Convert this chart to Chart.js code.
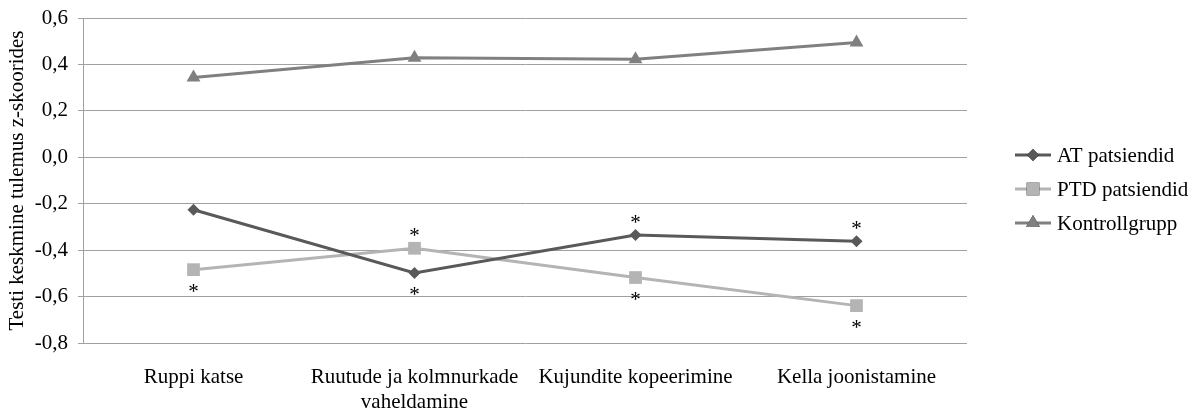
<!DOCTYPE html>
<html>
<head>
<meta charset="utf-8">
<script src="https://cdn.jsdelivr.net/npm/chart.js@4/dist/chart.umd.min.js"></script>
<style>
  html, body { margin: 0; padding: 0; background: #ffffff; }
  #wrap { width: 1195px; height: 408px; }
</style>
</head>
<body>
<div id="wrap"><canvas id="chart" width="1195" height="408"></canvas></div>
<script>
// Test categories (x axis)
const categories = [
  ['Ruppi katse'],
  ['Ruutude ja kolmnurkade', 'vaheldamine'],
  ['Kujundite kopeerimine'],
  ['Kella joonistamine']
];

// Mean z-scores per group
const atValues      = [-0.226, -0.498, -0.335, -0.362];
const ptdValues     = [-0.484, -0.392, -0.518, -0.639];
const controlValues = [0.344, 0.429, 0.422, 0.494];

// Significance markers: where the asterisk sits relative to the point
const atStars      = ['', 'below', 'above', 'above'];
const ptdStars     = ['below', 'above', 'below', 'below'];
const controlStars = ['', '', '', ''];

// Value axis
const yMin = -0.8;
const yMax = 0.6;
const yStep = 0.2;

const seriesNames = ['AT patsiendid', 'PTD patsiendid', 'Kontrollgrupp'];

const FONT = '"Liberation Serif", "Times New Roman", serif';
const FONT_SIZE = 21;

function fmt(v) {
  const r = Math.round(v * 10) / 10;
  return (r === 0 ? 0 : r).toFixed(1).replace('.', ',');
}

// Asterisks above / below the significant points
const starPlugin = {
  id: 'stars',
  afterDatasetsDraw(chart) {
    const ctx = chart.ctx;
    ctx.save();
    ctx.font = FONT_SIZE + 'px ' + FONT;
    ctx.fillStyle = '#000000';
    ctx.textAlign = 'center';
    ctx.textBaseline = 'middle';
    chart.data.datasets.forEach((ds, di) => {
      const meta = chart.getDatasetMeta(di);
      ds.stars.forEach((pos, i) => {
        if (!pos) return;
        const pt = meta.data[i];
        const dy = pos === 'above' ? -12 : 23;
        ctx.fillText('*', pt.x, pt.y + dy);
      });
    });
    ctx.restore();
  }
};

// Legend on the right: line sample with marker, then the label
const legendPlugin = {
  id: 'sideLegend',
  afterDraw(chart) {
    const ctx = chart.ctx;
    const x0 = 1015, x1 = 1051, tx = 1057;
    const ys = [155, 189, 223];
    ctx.save();
    chart.data.datasets.forEach((ds, di) => {
      const y = ys[di];
      ctx.strokeStyle = ds.borderColor;
      ctx.lineWidth = 3;
      ctx.beginPath();
      ctx.moveTo(x0, y);
      ctx.lineTo(x1, y);
      ctx.stroke();
      Chart.helpers.drawPoint(ctx, {
        pointStyle: ds.pointStyle,
        radius: ds.pointRadius,
        borderWidth: 0
      }, (x0 + x1) / 2, y);
      ctx.fillStyle = ds.borderColor;
      ctx.fill();
      ctx.fillStyle = '#000000';
      ctx.font = FONT_SIZE + 'px ' + FONT;
      ctx.textAlign = 'left';
      ctx.textBaseline = 'middle';
      ctx.fillText(ds.label, tx, y + 1);
    });
    ctx.restore();
  }
};

function makeSeries(label, values, stars, color, style, radius) {
  return {
    label: label,
    data: values,
    stars: stars,
    borderColor: color,
    backgroundColor: color,
    pointBackgroundColor: color,
    pointBorderColor: color,
    pointBorderWidth: 0,
    pointStyle: style,
    pointRadius: radius,
    pointHoverRadius: radius,
    borderWidth: 3,
    tension: 0,
    fill: false
  };
}

new Chart(document.getElementById('chart'), {
  type: 'line',
  data: {
    labels: categories,
    datasets: [
      makeSeries(seriesNames[0], atValues, atStars, '#595959', 'rectRot', 6),
      makeSeries(seriesNames[1], ptdValues, ptdStars, '#b4b4b4', 'rect', 9),
      makeSeries(seriesNames[2], controlValues, controlStars, '#808080', 'triangle', 8)
    ]
  },
  options: {
    responsive: false,
    animation: false,
    devicePixelRatio: 1,
    layout: { padding: { left: 0, right: 228, top: 18, bottom: 0 } },
    plugins: {
      legend: { display: false },
      tooltip: { enabled: false }
    },
    scales: {
      x: {
        offset: true,
        grid: { display: false, drawTicks: false },
        border: { display: false },
        ticks: {
          color: '#000000',
          font: { family: FONT, size: FONT_SIZE },
          padding: 22,
          maxRotation: 0,
          autoSkip: false
        },
        afterFit(scale) { scale.height = 65; }
      },
      y: {
        min: yMin,
        max: yMax,
        grid: { color: '#a0a0a0', lineWidth: 1, tickLength: 5, drawTicks: true },
        border: { display: true, color: '#a0a0a0', width: 1 },
        ticks: {
          stepSize: yStep,
          color: '#000000',
          font: { family: FONT, size: FONT_SIZE, lineHeight: 0.6 },
          padding: 10,
          callback: (v) => fmt(v)
        },
        title: {
          display: true,
          text: 'Testi keskmine tulemus z-skoorides',
          color: '#000000',
          font: { family: FONT, size: FONT_SIZE },
          padding: { top: 5, bottom: 0 }
        },
        afterFit(scale) { scale.width = 83; }
      }
    }
  },
  plugins: [starPlugin, legendPlugin]
});
</script>
</body>
</html>
